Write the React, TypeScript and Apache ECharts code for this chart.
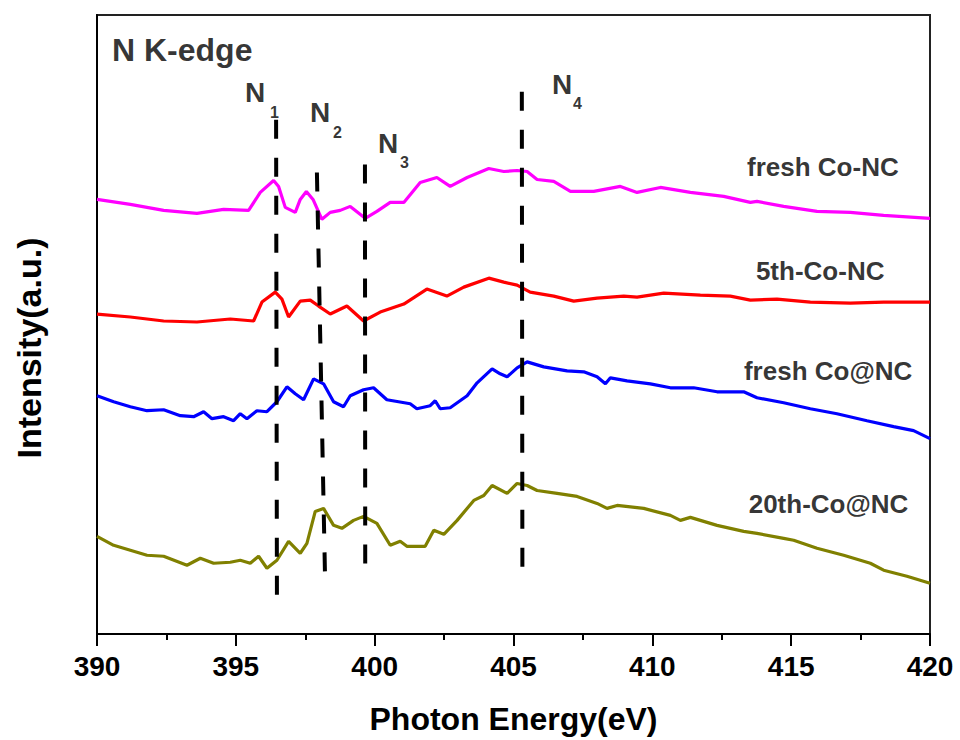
import React, { useEffect, useRef } from "react";
import * as echarts from "echarts";

// Photon energy (eV), intensity (a.u.)
const freshCoNC: [number, number][] = [
  [390.0, 4.36], [391.2, 4.31], [392.4, 4.25], [393.6, 4.22], [394.56, 4.26], [395.46, 4.25],
  [395.88, 4.43], [396.36, 4.55], [396.54, 4.49], [396.78, 4.28], [397.14, 4.23], [397.32, 4.36],
  [397.54, 4.44], [397.78, 4.36], [398.1, 4.16], [398.4, 4.23], [398.76, 4.25], [399.12, 4.29],
  [399.66, 4.17], [400.08, 4.24], [400.56, 4.33], [401.05, 4.33], [401.64, 4.53], [402.24, 4.58],
  [402.72, 4.49], [403.33, 4.58], [404.11, 4.67], [404.65, 4.64], [405.13, 4.65], [405.49, 4.64],
  [405.85, 4.56], [406.45, 4.54], [407.05, 4.44], [407.89, 4.44], [408.85, 4.49], [409.45, 4.43],
  [410.29, 4.48], [411.37, 4.43], [412.57, 4.39], [413.53, 4.33], [413.77, 4.34], [414.73, 4.29],
  [415.93, 4.24], [417.13, 4.23], [418.33, 4.2], [420.0, 4.17],
];

const fifthCoNC: [number, number][] = [
  [390.0, 3.21], [391.2, 3.18], [392.4, 3.14], [393.6, 3.13], [394.8, 3.16], [395.64, 3.14],
  [395.94, 3.33], [396.42, 3.43], [396.66, 3.36], [396.9, 3.18], [397.32, 3.34], [397.68, 3.35],
  [397.98, 3.29], [398.4, 3.21], [399.0, 3.29], [399.6, 3.14], [400.2, 3.23], [401.05, 3.31],
  [401.88, 3.46], [402.6, 3.39], [403.21, 3.48], [404.11, 3.57], [404.65, 3.53], [405.13, 3.5],
  [405.6, 3.43], [406.45, 3.39], [407.17, 3.34], [408.01, 3.37], [408.97, 3.39], [409.45, 3.38],
  [410.41, 3.42], [411.73, 3.4], [412.81, 3.39], [413.53, 3.35], [414.49, 3.36], [415.69, 3.33],
  [417.13, 3.32], [418.33, 3.33], [420.0, 3.33],
];

const freshCoAtNC: [number, number][] = [
  [390.0, 2.39], [390.6, 2.33], [391.2, 2.28], [391.8, 2.24], [392.4, 2.25], [393.0, 2.19],
  [393.48, 2.18], [393.84, 2.23], [394.14, 2.16], [394.56, 2.18], [394.92, 2.14], [395.16, 2.21],
  [395.4, 2.16], [395.76, 2.24], [396.12, 2.23], [396.48, 2.33], [396.84, 2.48], [397.14, 2.41],
  [397.44, 2.35], [397.8, 2.56], [398.16, 2.51], [398.52, 2.33], [398.88, 2.28], [399.12, 2.39],
  [399.6, 2.45], [399.96, 2.47], [400.44, 2.35], [401.28, 2.31], [401.52, 2.26], [402.0, 2.29],
  [402.18, 2.34], [402.36, 2.26], [402.72, 2.27], [403.33, 2.39], [403.69, 2.52], [404.23, 2.66],
  [404.52, 2.61], [404.77, 2.58], [405.13, 2.67], [405.49, 2.73], [406.09, 2.68], [406.93, 2.64],
  [407.53, 2.63], [408.01, 2.58], [408.31, 2.51], [408.49, 2.57], [409.09, 2.54], [409.93, 2.51],
  [410.65, 2.47], [411.49, 2.47], [412.33, 2.43], [413.29, 2.43], [413.77, 2.37], [414.73, 2.32],
  [415.69, 2.26], [416.65, 2.21], [417.73, 2.14], [418.69, 2.08], [419.41, 2.04], [420.0, 1.96],
];

const twentiethCoAtNC: [number, number][] = [
  [390.0, 0.98], [390.6, 0.89], [391.2, 0.84], [391.8, 0.79], [392.4, 0.78], [393.24, 0.69],
  [393.72, 0.76], [394.2, 0.71], [394.8, 0.72], [395.16, 0.74], [395.52, 0.71], [395.82, 0.78],
  [396.12, 0.66], [396.48, 0.74], [396.9, 0.93], [397.32, 0.81], [397.56, 0.91], [397.86, 1.23],
  [398.16, 1.26], [398.52, 1.09], [398.82, 1.06], [399.24, 1.14], [399.6, 1.18], [400.08, 1.11],
  [400.56, 0.89], [400.92, 0.93], [401.16, 0.88], [401.82, 0.88], [402.13, 1.04], [402.49, 1.0],
  [402.97, 1.14], [403.57, 1.34], [403.93, 1.39], [404.23, 1.49], [404.77, 1.41], [405.13, 1.51],
  [405.49, 1.49], [405.85, 1.44], [406.57, 1.41], [407.29, 1.38], [408.01, 1.31], [408.37, 1.26],
  [408.73, 1.29], [409.69, 1.26], [410.65, 1.19], [411.01, 1.14], [411.37, 1.17], [412.33, 1.09],
  [413.29, 1.03], [413.77, 1.01], [414.73, 0.96], [415.09, 0.94], [415.93, 0.86], [416.89, 0.79],
  [417.85, 0.71], [418.33, 0.64], [419.17, 0.58], [420.0, 0.51],
];

// Dashed reference lines (top point, bottom point)
const peakN1: [number, number][] = [[396.45, 5.16], [396.48, 0.38]];
const peakN2: [number, number][] = [[397.92, 4.63], [398.21, 0.61]];
const peakN3: [number, number][] = [[399.65, 4.71], [399.66, 0.68]];
const peakN4: [number, number][] = [[405.3, 5.44], [405.32, 0.66]];

// Annotation anchors (left edge, vertical middle)
const peakNames = [
  { value: [395.33, 5.435], name: "N" },
  { value: [397.67, 5.235], name: "N" },
  { value: [400.12, 4.92], name: "N" },
  { value: [406.39, 5.51], name: "N" },
];
const peakSubscripts = [
  { value: [396.23, 5.235], name: "1" },
  { value: [398.5, 5.035], name: "2" },
  { value: [400.91, 4.735], name: "3" },
  { value: [407.14, 5.32], name: "4" },
];
const sampleNames = [
  { value: [413.41, 4.69], name: "fresh Co-NC" },
  { value: [413.73, 3.645], name: "5th-Co-NC" },
  { value: [413.3, 2.635], name: "fresh Co@NC" },
  { value: [413.47, 1.3], name: "20th-Co@NC" },
];
const panelTitle = [{ value: [390.54, 5.855], name: "N K-edge" }];

const FONT = "'Liberation Sans', Arial, sans-serif";

function labelSeries(data: any[], fontSize: number) {
  return {
    type: "scatter",
    data,
    symbolSize: 0,
    silent: true,
    z: 10,
    label: {
      show: true,
      position: "right",
      distance: 0,
      formatter: "{b}",
      fontSize,
      fontWeight: "bold",
      fontFamily: FONT,
      color: "#000",
      align: "left",
      verticalAlign: "middle",
    },
    emphasis: { disabled: true },
  };
}

function curve(name: string, data: [number, number][], color: string) {
  return {
    name,
    type: "line",
    data,
    showSymbol: false,
    symbol: "none",
    smooth: false,
    lineStyle: { color, width: 3.2 },
    z: 3,
  };
}

function dashed(data: [number, number][]) {
  return {
    type: "line",
    data,
    showSymbol: false,
    symbol: "none",
    lineStyle: { color: "#000", width: 4, type: [19, 19], cap: "butt" },
    z: 5,
  };
}

export default function App() {
  const ref = useRef<HTMLDivElement>(null);
  useEffect(() => {
    if (!ref.current) return;
    const chart = echarts.init(ref.current, undefined, { renderer: "svg" });
    chart.setOption({
      animation: false,
      backgroundColor: "#fff",
      grid: {
        left: 97,
        right: 30,
        top: 15,
        bottom: 104,
        show: true,
        borderColor: "#222",
        borderWidth: 2,
        backgroundColor: "transparent",
      },
      xAxis: {
        type: "value",
        min: 390,
        max: 420,
        interval: 5,
        name: "Photon Energy(eV)",
        nameLocation: "middle",
        nameGap: 69,
        nameTextStyle: { fontSize: 32, fontWeight: "bold", color: "#000", fontFamily: FONT },
        axisLine: { show: true, lineStyle: { color: "#000", width: 2 } },
        axisTick: { show: true, length: 12, lineStyle: { color: "#000", width: 2 } },
        minorTick: { show: true, splitNumber: 2, length: 6, lineStyle: { color: "#000", width: 2 } },
        axisLabel: { fontSize: 28, fontWeight: "bold", color: "#000", margin: 18, fontFamily: FONT },
        splitLine: { show: false },
      },
      yAxis: {
        type: "value",
        min: 0,
        max: 6.21,
        axisLine: { show: true, lineStyle: { color: "#000", width: 2 } },
        axisTick: { show: false },
        axisLabel: { show: false },
        splitLine: { show: false },
      },
      graphic: [
        {
          type: "text",
          x: 29,
          y: 348,
          rotation: Math.PI / 2,
          style: {
            text: "Intensity(a.u.)",
            fontSize: 34,
            fontWeight: "bold",
            fontFamily: FONT,
            fill: "#000",
            align: "center",
            verticalAlign: "middle",
          },
        },
      ],
      series: [
        curve("fresh Co-NC", freshCoNC, "#ff00ff"),
        curve("5th-Co-NC", fifthCoNC, "#ff0000"),
        curve("fresh Co@NC", freshCoAtNC, "#0000ff"),
        curve("20th-Co@NC", twentiethCoAtNC, "#808000"),
        dashed(peakN1),
        dashed(peakN2),
        dashed(peakN3),
        dashed(peakN4),
        labelSeries(panelTitle, 32),
        labelSeries(peakNames, 28),
        labelSeries(peakSubscripts, 16),
        labelSeries(sampleNames, 26),
      ],
    });
    return () => chart.dispose();
  }, []);
  return (
    <div
      ref={ref}
      style={{ position: "fixed", left: 0, top: 0, width: 960, height: 740, background: "#fff" }}
    />
  );
}
